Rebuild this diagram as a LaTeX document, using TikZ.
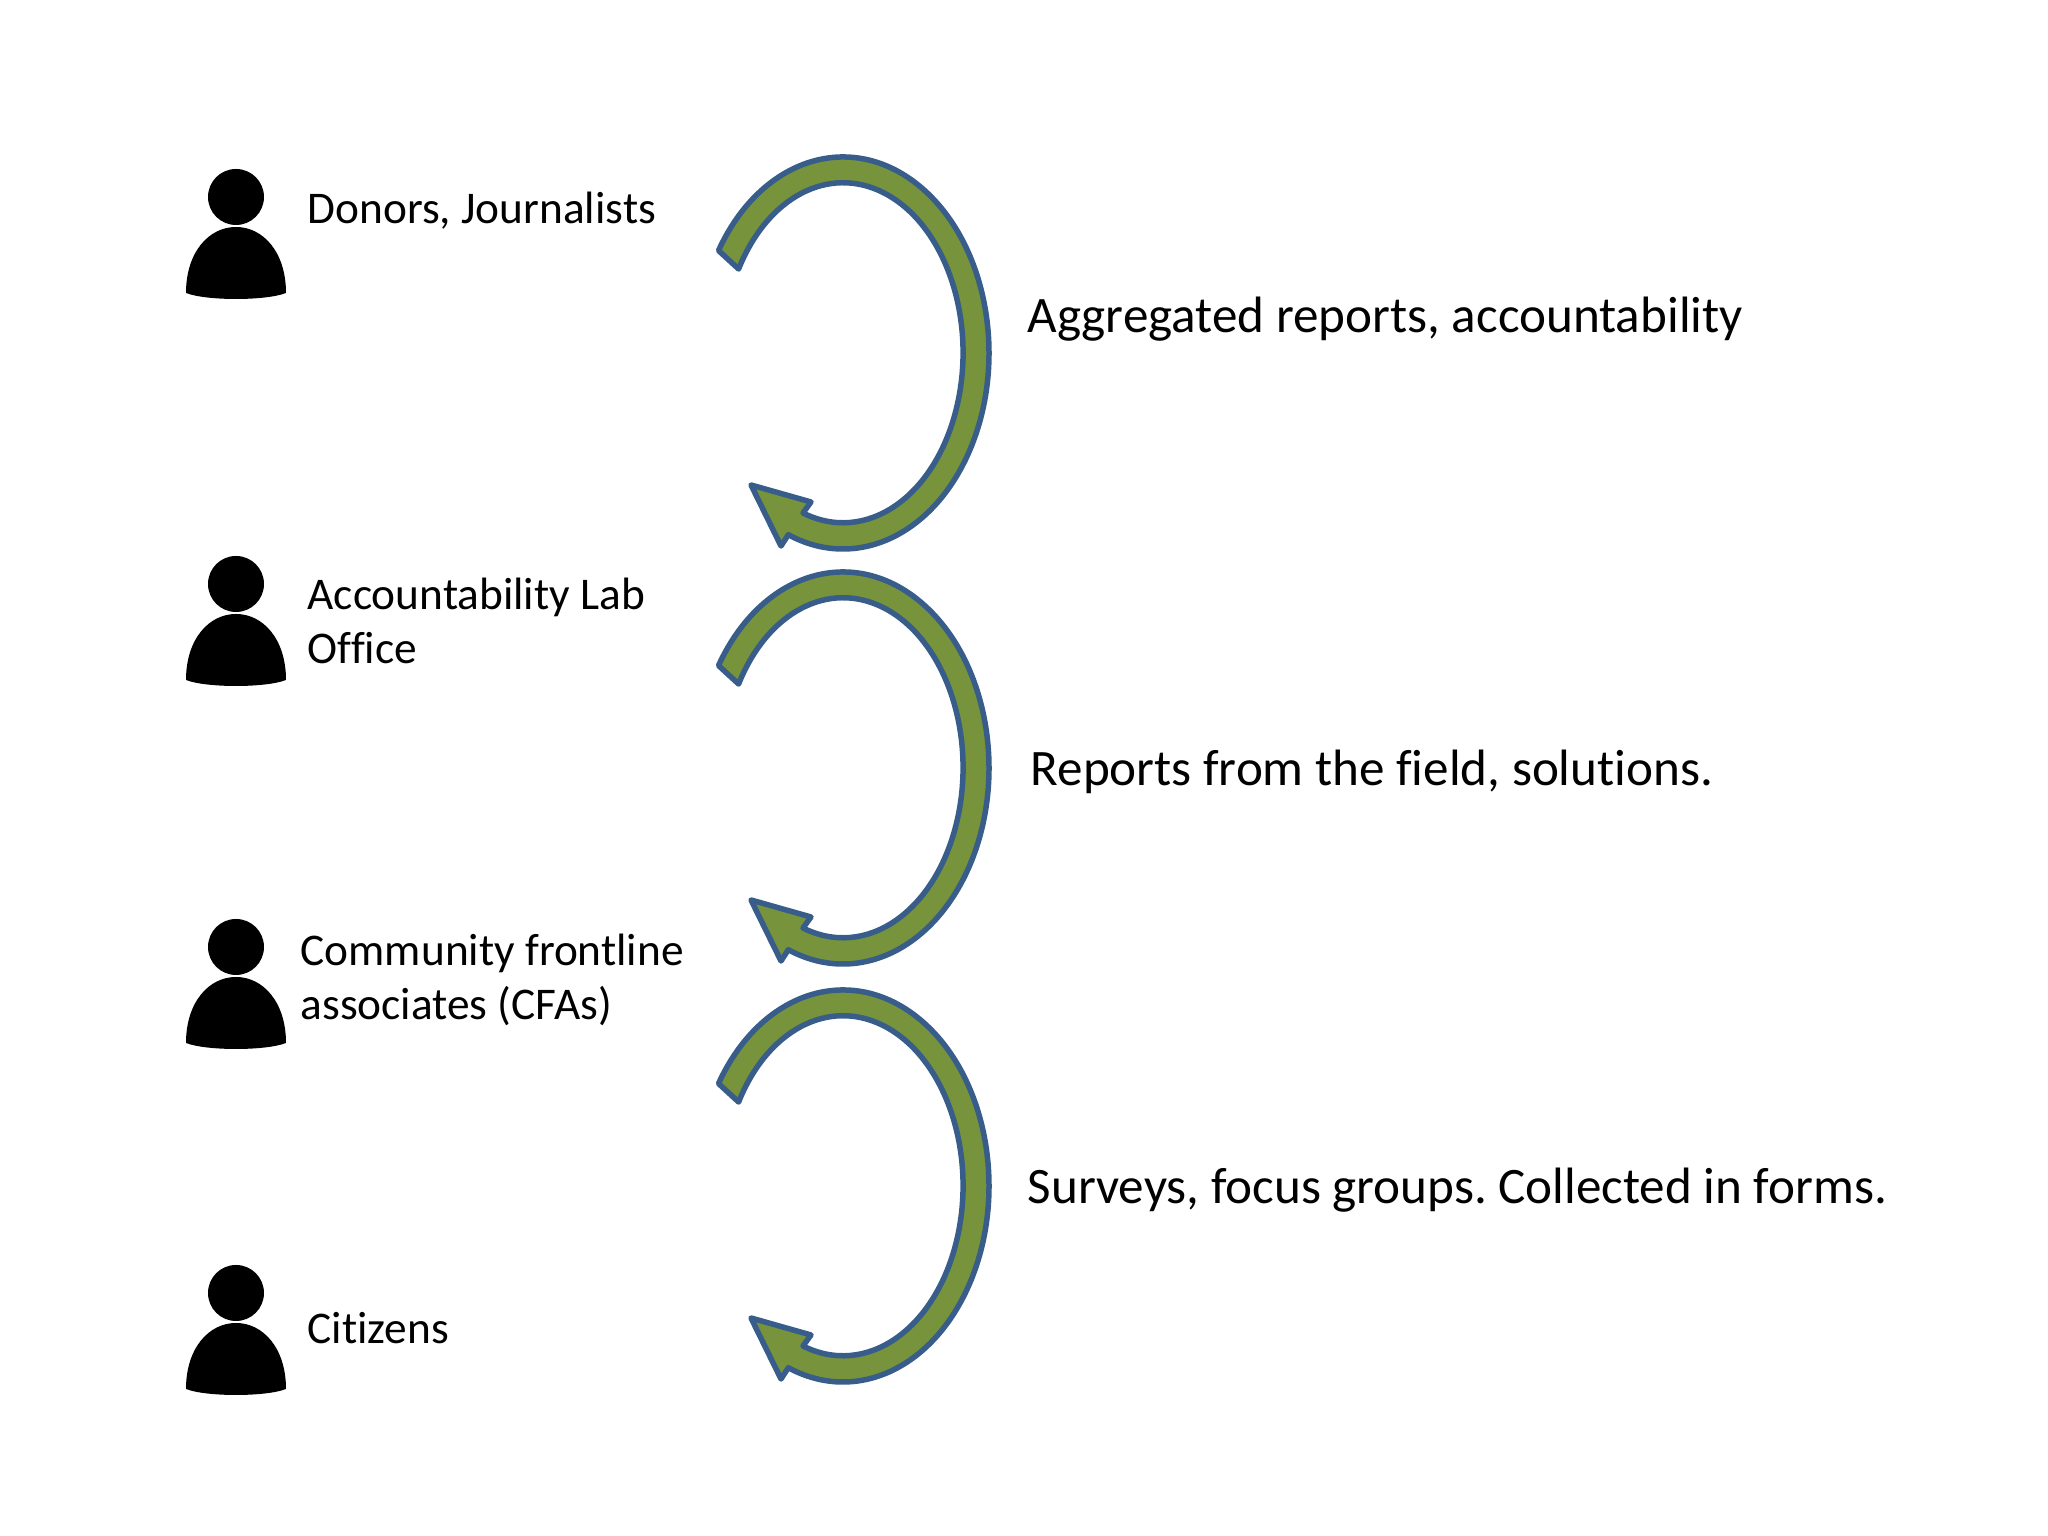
\documentclass[tikz,border=0pt]{standalone}
\usepackage{fontspec}
\setmainfont{Carlito}[Ligatures=NoCommon]
\definecolor{loopgreen}{HTML}{77933C}
\definecolor{loopblue}{HTML}{385D8A}
\tikzset{%
  myloop/.style={draw=loopblue, fill=loopgreen, line width=0.055cm, line join=round},
  myperson/.style={fill=black},
  mylabel/.style={anchor=base west, inner sep=0pt, align=left, font=\fontsize{12.9}{15.6}\selectfont},
  myreport/.style={anchor=base west, inner sep=0pt, font=\fontsize{14.55}{18}\selectfont}
}

\begin{document}
\frenchspacing
\begin{tikzpicture}
\useasboundingbox (0,0) rectangle (20.48,15.36);

\foreach \cy in {11.83,7.68,3.50} {
  \draw [myloop, shift={(8.43,\cy)}] (148.5:1.46 and 1.96)
    arc [start angle=148.5, end angle=-112, x radius=1.46, y radius=1.96]
    -- (-0.62,-1.93) -- (-0.92,-1.32) -- (-0.32,-1.49) -- (-0.40,-1.60)
    arc [start angle=-109.5, end angle=150.5, x radius=1.20, y radius=1.70]
    -- cycle;
}

\foreach \hy in {13.39,9.52,5.89,2.43} {
  \fill [myperson] (2.36,\hy) circle (0.28);
  \fill [myperson, shift={(2.36,\hy)}] (-0.5,-0.96)
    .. controls (-0.5,-0.55) and (-0.27,-0.30) .. (0,-0.30)
    .. controls (0.27,-0.30) and (0.5,-0.55) .. (0.5,-0.96)
    .. controls (0.3,-1.04) and (-0.3,-1.04) .. cycle;
}

\node (donors) [mylabel] at (3.07,13.12) {Donors, Journalists};
\node (office) [mylabel] at (3.07,8.72) {Accountability Lab\\Office};
\node (cfas) [mylabel] at (3.00,5.16) {Community frontline\\associates (CFAs)};
\node (citizens) [mylabel] at (3.07,1.92) {Citizens};

\node (aggregated) [myreport] at (10.27,12.03) {Aggregated reports, accountability};
\node (field) [myreport] at (10.30,7.50) {Reports from the field, solutions.};
\node (surveys) [myreport] at (10.27,3.32) {Surveys, focus groups. Collected in forms.};
\end{tikzpicture}
\end{document}
